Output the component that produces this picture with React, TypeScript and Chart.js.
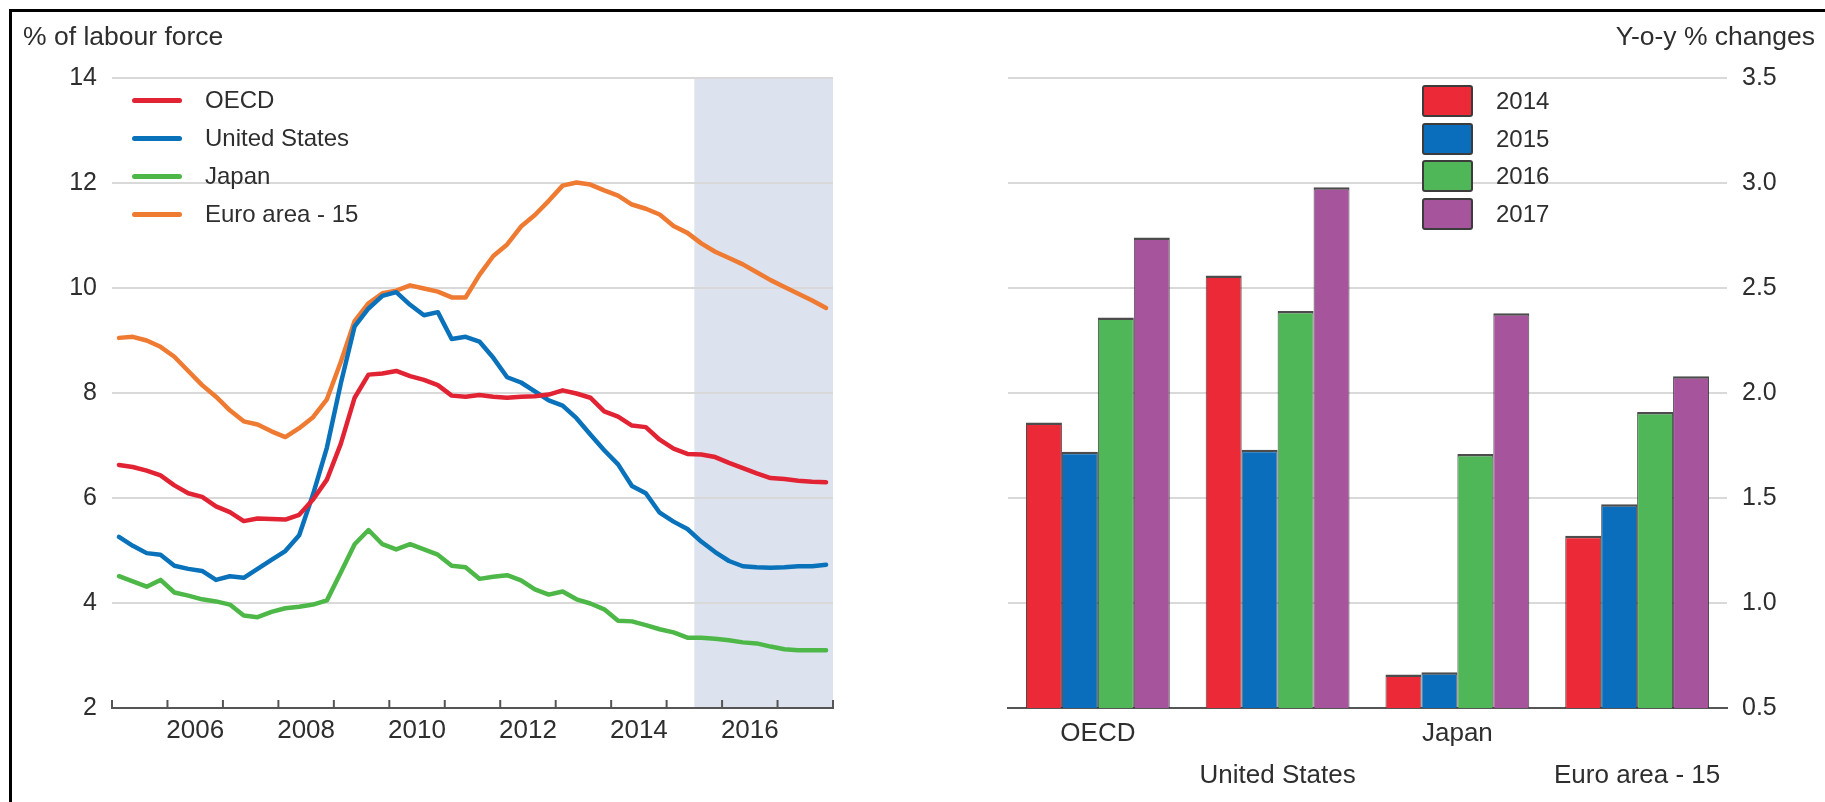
import React, { useEffect, useRef } from 'react';
import { Chart, registerables } from 'chart.js';

Chart.register(...registerables);

const FONT = "'Liberation Sans', Arial, Helvetica, sans-serif";
const TEXT = '#2e2e2e';

// ---------- left panel: unemployment rates (quarterly) ----------
const years = [2005, 2006, 2007, 2008, 2009, 2010, 2011, 2012, 2013, 2014, 2015, 2016, 2017];
const quarterNames = ['Q1', 'Q2', 'Q3', 'Q4'];
const quarters = years.flatMap((y) => quarterNames.map((q) => `${y}${q}`));
const projectionStart = '2015Q3';
const xLabelYears = [2006, 2008, 2010, 2012, 2014, 2016];
const leftTitle = '% of labour force';

const lineNames = ['OECD', 'United States', 'Japan', 'Euro area - 15'];
const lineColors = ['#E22334', '#0A72BA', '#4DB848', '#EF7A32'];

const oecd = [
  6.63, 6.59, 6.52, 6.43, 6.24, 6.09, 6.02, 5.84, 5.73, 5.56, 5.61, 5.6, 5.59,
  5.68, 5.97, 6.35, 7.03, 7.91, 8.35, 8.37, 8.42, 8.32, 8.25, 8.15, 7.95, 7.93,
  7.96, 7.93, 7.91, 7.93, 7.94, 7.97, 8.05, 7.99, 7.91, 7.65, 7.55, 7.38, 7.35,
  7.11, 6.94, 6.84, 6.83, 6.78, 6.67, 6.57, 6.47, 6.38, 6.36, 6.33, 6.31, 6.3,
];
const unitedStates = [
  5.26, 5.09, 4.95, 4.92, 4.71, 4.65, 4.61, 4.44, 4.51, 4.48, 4.65, 4.82, 4.99,
  5.29, 6.07, 6.96, 8.18, 9.27, 9.61, 9.85, 9.92, 9.68, 9.48, 9.54, 9.03, 9.07,
  8.98, 8.67, 8.3, 8.2, 8.03, 7.86, 7.76, 7.52, 7.21, 6.91, 6.64, 6.23, 6.09,
  5.72, 5.55, 5.41, 5.17, 4.97, 4.8, 4.7, 4.68, 4.67, 4.68, 4.7, 4.7, 4.73,
];
const japan = [
  4.51, 4.41, 4.31, 4.44, 4.2, 4.14, 4.07, 4.03, 3.97, 3.76, 3.73, 3.83, 3.9,
  3.93, 3.97, 4.05, 4.58, 5.12, 5.39, 5.12, 5.02, 5.12, 5.02, 4.92, 4.71, 4.68,
  4.46, 4.5, 4.53, 4.43, 4.26, 4.16, 4.22, 4.07, 3.99, 3.88, 3.66, 3.65, 3.58,
  3.5, 3.44, 3.34, 3.34, 3.32, 3.29, 3.25, 3.23, 3.17, 3.12, 3.1, 3.1, 3.1,
];
const euroArea = [
  9.05, 9.07, 9.0, 8.88, 8.69, 8.42, 8.15, 7.93, 7.67, 7.46, 7.4, 7.27, 7.16,
  7.33, 7.54, 7.88, 8.59, 9.37, 9.71, 9.9, 9.95, 10.05, 9.99, 9.93, 9.82, 9.82,
  10.25, 10.61, 10.83, 11.17, 11.39, 11.66, 11.95, 12.01, 11.97, 11.86, 11.76,
  11.59, 11.51, 11.4, 11.18, 11.05, 10.85, 10.69, 10.57, 10.45, 10.3, 10.15,
  10.02, 9.89, 9.76, 9.62,
];
const lineValues = [oecd, unitedStates, japan, euroArea];

// ---------- right panel: growth, y-o-y % changes ----------
const barTitle = 'Y-o-y % changes';
const barCountries = ['OECD', 'United States', 'Japan', 'Euro area - 15'];
const barYears = ['2014', '2015', '2016', '2017'];
const barColors = ['#EC2A37', '#0A6EBD', '#4FB757', '#A6559D'];
const growth2014 = [1.86, 2.56, 0.66, 1.32];
const growth2015 = [1.72, 1.73, 0.67, 1.47];
const growth2016 = [2.36, 2.39, 1.71, 1.91];
const growth2017 = [2.74, 2.98, 2.38, 2.08];
const barValues = [growth2014, growth2015, growth2016, growth2017];

const quarterToYear = (q: string) =>
  parseInt(q.slice(0, 4), 10) + (parseInt(q.slice(5), 10) - 0.5) / 4;
const quarterStart = (q: string) =>
  parseInt(q.slice(0, 4), 10) + (parseInt(q.slice(5), 10) - 1) / 4;

const X_MIN = years[0];
const X_MAX = years[years.length - 1] + 1;

const shadePlugin = {
  id: 'projectionShade',
  beforeDraw(chart: any) {
    const { ctx, chartArea, scales } = chart;
    const x0 = scales.x.getPixelForValue(quarterStart(projectionStart));
    const x1 = scales.x.getPixelForValue(X_MAX);
    ctx.save();
    ctx.fillStyle = '#DCE3EE';
    ctx.fillRect(x0, chartArea.top, x1 - x0, chartArea.bottom - chartArea.top);
    ctx.restore();
  },
};

const yearTickPlugin = {
  id: 'yearTicks',
  afterDraw(chart: any) {
    const { ctx, chartArea, scales } = chart;
    ctx.save();
    ctx.strokeStyle = '#555555';
    ctx.lineWidth = 2;
    for (let yr = X_MIN; yr <= X_MAX; yr++) {
      const px = scales.x.getPixelForValue(yr);
      ctx.beginPath();
      ctx.moveTo(px, chartArea.bottom);
      ctx.lineTo(px, chartArea.bottom - 8);
      ctx.stroke();
    }
    ctx.restore();
  },
};

function LineChart() {
  const ref = useRef<HTMLCanvasElement | null>(null);
  useEffect(() => {
    if (!ref.current) return;
    const chart = new Chart(ref.current, {
      type: 'line',
      data: {
        datasets: lineNames.map((name, k) => ({
          label: name,
          data: lineValues[k].map((v, i) => ({ x: quarterToYear(quarters[i]), y: v })),
          borderColor: lineColors[k],
          backgroundColor: lineColors[k],
          borderWidth: 4.5,
          pointRadius: 0,
          tension: 0,
          borderJoinStyle: 'round',
          borderCapStyle: 'round',
        })),
      },
      options: {
        animation: false,
        responsive: false,
        maintainAspectRatio: false,
        layout: { padding: { left: 0, right: 67, top: 78, bottom: 0 } },
        plugins: { legend: { display: false }, tooltip: { enabled: false } },
        scales: {
          x: {
            type: 'linear',
            min: X_MIN,
            max: X_MAX,
            afterBuildTicks: (s: any) => {
              s.ticks = xLabelYears.map((y) => ({ value: y + 0.5 }));
            },
            ticks: {
              autoSkip: false,
              maxRotation: 0,
              padding: 7,
              color: TEXT,
              font: { family: FONT, size: 26 },
              callback: (v: any) => String(Math.floor(Number(v))),
            },
            grid: { display: false, drawTicks: false },
            border: { display: true, color: '#555555', width: 2 },
            afterFit: (s: any) => {
              s.height = 94;
            },
          },
          y: {
            min: 2,
            max: 14,
            ticks: {
              stepSize: 2,
              padding: 15,
              color: TEXT,
              font: { family: FONT, size: 25 },
            },
            grid: { color: '#D9D9D9', lineWidth: 2, drawTicks: false },
            border: { display: false },
            afterFit: (s: any) => {
              s.width = 112;
            },
          },
        },
      } as any,
      plugins: [shadePlugin, yearTickPlugin],
    });
    return () => chart.destroy();
  }, []);
  return <canvas ref={ref} width={900} height={802} style={{ position: 'absolute', left: 0, top: 0, width: 900, height: 802 }} />;
}

function BarChart() {
  const ref = useRef<HTMLCanvasElement | null>(null);
  useEffect(() => {
    if (!ref.current) return;
    const chart = new Chart(ref.current, {
      type: 'bar',
      data: {
        labels: barCountries.map((c, i) => (i % 2 ? ['', c] : c)),
        datasets: barYears.map((yr, k) => ({
          label: yr,
          data: barValues[k],
          backgroundColor: barColors[k],
          borderColor: 'rgba(45,45,45,0.85)',
          borderWidth: { top: 2.5, left: 1, right: 1, bottom: 0 },
          borderSkipped: 'start',
          categoryPercentage: 0.8,
          barPercentage: 1.0,
        })),
      },
      options: {
        animation: false,
        responsive: false,
        maintainAspectRatio: false,
        layout: { padding: { left: 108, right: 0, top: 78, bottom: 0 } },
        plugins: { legend: { display: false }, tooltip: { enabled: false } },
        scales: {
          x: {
            grid: { display: false, drawTicks: false },
            border: { display: true, color: '#555555', width: 2 },
            ticks: {
              autoSkip: false,
              maxRotation: 0,
              padding: 5,
              color: TEXT,
              font: { family: FONT, size: 26, lineHeight: 1.6 },
            },
            afterFit: (s: any) => {
              s.height = 94;
            },
          },
          y: {
            position: 'right',
            min: 0.5,
            max: 3.5,
            ticks: {
              stepSize: 0.5,
              padding: 15,
              color: TEXT,
              font: { family: FONT, size: 25 },
              callback: (v: any) => Number(v).toFixed(1),
            },
            grid: { color: '#D9D9D9', lineWidth: 2, drawTicks: false },
            border: { display: false },
            afterFit: (s: any) => {
              s.width = 98;
            },
          },
        },
      } as any,
    });
    return () => chart.destroy();
  }, []);
  return <canvas ref={ref} width={925} height={802} style={{ position: 'absolute', left: 900, top: 0, width: 925, height: 802 }} />;
}

export default function App() {
  const textBase: React.CSSProperties = {
    position: 'absolute',
    fontFamily: FONT,
    color: TEXT,
    whiteSpace: 'nowrap',
    lineHeight: '30px',
  };
  return (
    <div style={{ position: 'fixed', left: 0, top: 0, width: 1825, height: 802, background: '#ffffff', overflow: 'hidden' }}>
      <div style={{ position: 'absolute', left: 9, top: 9, width: 1830, height: 800, borderLeft: '3px solid #000', borderTop: '3px solid #000' }} />
      <LineChart />
      <BarChart />
      <div style={{ ...textBase, left: 23, top: 21, fontSize: 26.5 }}>{leftTitle}</div>
      <div style={{ ...textBase, right: 10, top: 21, fontSize: 26.5 }}>{barTitle}</div>
      {lineNames.map((name, k) => (
        <React.Fragment key={name}>
          <div style={{ position: 'absolute', left: 132, top: 100 + k * 38 - 2.5, width: 50, height: 5, borderRadius: 2.5, background: lineColors[k] }} />
          <div style={{ ...textBase, left: 205, top: 100 + k * 38 - 15, fontSize: 24 }}>{name}</div>
        </React.Fragment>
      ))}
      {barYears.map((yr, k) => (
        <React.Fragment key={yr}>
          <div style={{ position: 'absolute', left: 1422, top: 85 + k * 37.7, width: 47, height: 28, border: '2px solid #3c3c3c', borderRadius: 3, background: barColors[k] }} />
          <div style={{ ...textBase, left: 1496, top: 101 + k * 37.7 - 15, fontSize: 24 }}>{yr}</div>
        </React.Fragment>
      ))}
    </div>
  );
}
